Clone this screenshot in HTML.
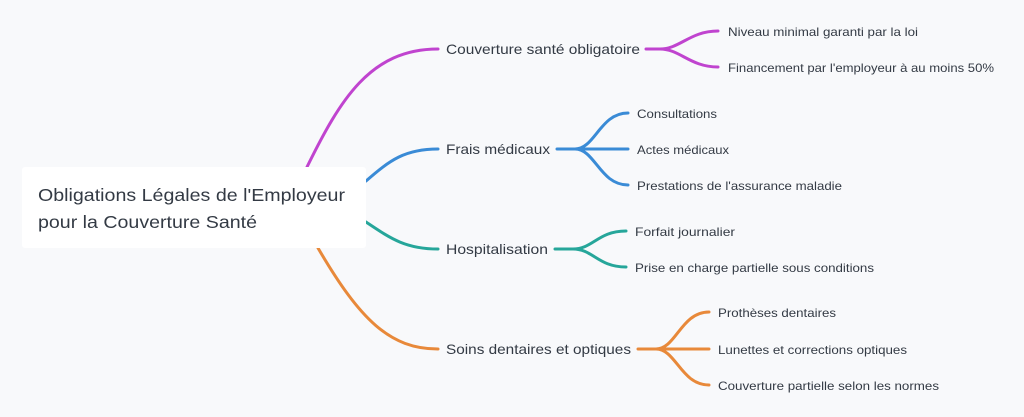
<!DOCTYPE html>
<html><head><meta charset="utf-8"><style>
html,body{margin:0;padding:0;background:#f8f9fb;}
svg{display:block}
text{font-family:"Liberation Sans",sans-serif;fill:#333a44;}
</style></head><body>
<svg width="1024" height="417" viewBox="0 0 1024 417" xmlns="http://www.w3.org/2000/svg">
<rect width="1024" height="417" fill="#f8f9fb"/>
<g fill="none" stroke-width="3" stroke-linecap="round">
<!-- purple -->
<path d="M307 167 C340 100 370 49 438 49" stroke="#c044cf"/>
<path d="M646 49 L660 49 C680 49 690 31 718 31 M660 49 C680 49 690 67 718 67" stroke="#c044cf"/>
<!-- blue -->
<path d="M366 181 C390 160 405 149 438 149" stroke="#3a8bd6"/>
<path d="M557 149 L575 149 C595 149 600 113 628 113 M575 149 L628 149 M575 149 C595 149 600 185 628 185" stroke="#3a8bd6"/>
<!-- teal -->
<path d="M366 222 C390 238 405 249 438 249" stroke="#26a69a"/>
<path d="M555 249 L573 249 C593 249 598 231 626 231 M573 249 C593 249 598 267 626 267" stroke="#26a69a"/>
<!-- orange -->
<path d="M318 248 C360 320 390 349 438 349" stroke="#e8893a"/>
<path d="M638 349 L656 349 C676 349 681 312 709 312 M656 349 L709 349 M656 349 C676 349 681 385 709 385" stroke="#e8893a"/>
</g>
<rect x="22" y="167" width="344" height="81" rx="3" fill="#ffffff"/>
<text x="38" y="201" font-size="17.5" textLength="307" lengthAdjust="spacingAndGlyphs">Obligations Légales de l'Employeur</text>
<text x="38" y="228" font-size="17.5" textLength="219" lengthAdjust="spacingAndGlyphs">pour la Couverture Santé</text>
<g font-size="14">
<text x="446" y="54" textLength="194" lengthAdjust="spacingAndGlyphs">Couverture santé obligatoire</text>
<text x="446" y="154" textLength="104" lengthAdjust="spacingAndGlyphs">Frais médicaux</text>
<text x="446" y="254" textLength="102" lengthAdjust="spacingAndGlyphs">Hospitalisation</text>
<text x="446" y="354" textLength="185" lengthAdjust="spacingAndGlyphs">Soins dentaires et optiques</text>
</g>
<g font-size="12">
<text x="728" y="36" textLength="190" lengthAdjust="spacingAndGlyphs">Niveau minimal garanti par la loi</text>
<text x="728" y="72" textLength="266" lengthAdjust="spacingAndGlyphs">Financement par l'employeur à au moins 50%</text>
<text x="637" y="118" textLength="80" lengthAdjust="spacingAndGlyphs">Consultations</text>
<text x="637" y="154" textLength="92" lengthAdjust="spacingAndGlyphs">Actes médicaux</text>
<text x="637" y="190" textLength="205" lengthAdjust="spacingAndGlyphs">Prestations de l'assurance maladie</text>
<text x="635" y="236" textLength="100" lengthAdjust="spacingAndGlyphs">Forfait journalier</text>
<text x="635" y="272" textLength="239" lengthAdjust="spacingAndGlyphs">Prise en charge partielle sous conditions</text>
<text x="718" y="317" textLength="118" lengthAdjust="spacingAndGlyphs">Prothèses dentaires</text>
<text x="718" y="354" textLength="189" lengthAdjust="spacingAndGlyphs">Lunettes et corrections optiques</text>
<text x="718" y="390" textLength="221" lengthAdjust="spacingAndGlyphs">Couverture partielle selon les normes</text>
</g>
</svg>
</body></html>
